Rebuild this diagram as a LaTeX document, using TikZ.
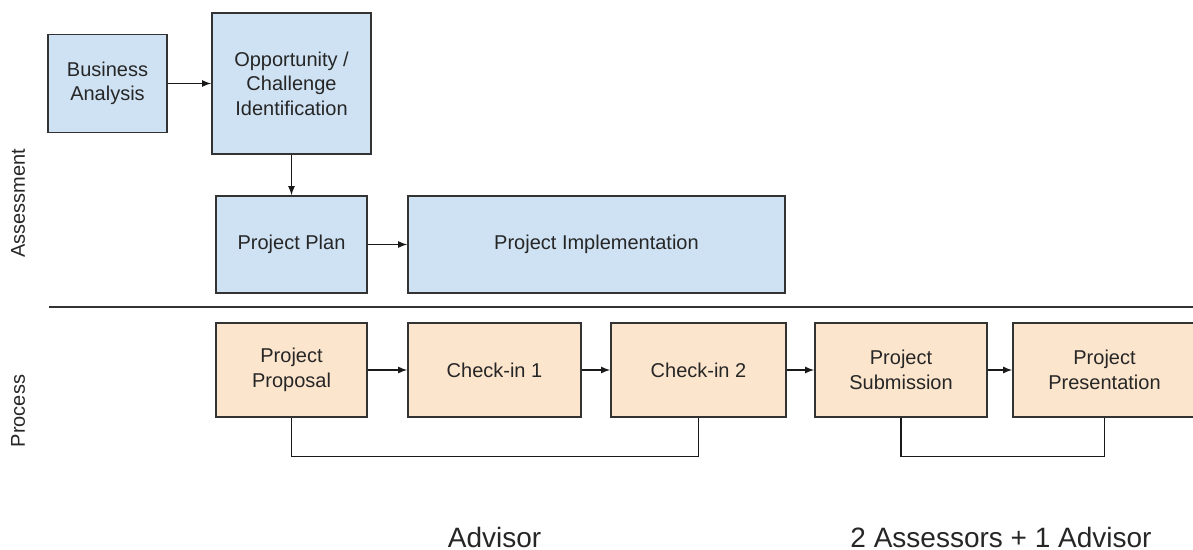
\documentclass[tikz,border=0pt]{standalone}
\usepackage{fontspec}
\setmainfont{Liberation Sans}
\usetikzlibrary{positioning}
\definecolor{assessfill}{HTML}{CFE2F3}
\definecolor{processfill}{HTML}{FCE5CD}
\definecolor{edgegray}{HTML}{333333}

\begin{document}
\begin{tikzpicture}[x=0.5pt, y=-0.5pt,
    box/.style={draw=edgegray, line width=0.9pt, inner sep=0pt, align=center,
        font=\fontsize{10}{12.3}\selectfont, text=black!85},
    blue/.style={box, fill=assessfill},
    orange/.style={box, fill=processfill, minimum height=47pt},
    link/.style={draw=black!90, line width=0.55pt},
    tagtext/.style={text=black!85}]
    \useasboundingbox (0,0) rectangle (1193,550);

    % assessment row
    \node (PP) at (291.5,244.5) [blue, minimum width=75.5pt, minimum height=48.5pt] {Project Plan};
    \node (PI) [right=19.6pt of PP, blue, minimum width=188.5pt, minimum height=48.5pt] {Project Implementation};
    \node (OC) [above=20.1pt of PP, blue, minimum width=79.5pt, minimum height=70.5pt] {Opportunity /\\Challenge\\Identification};
    \node (BA) [left=21.6pt of OC, blue, minimum width=59.5pt, minimum height=49pt] {Business\\Analysis};

    \draw[link, -latex] (BA.east) -- (OC.west);
    \draw[link, -latex] (OC.south) -- (PP.north);
    \draw[link, -latex] (PP.east) -- (PI.west);

    % divider
    \coordinate (divL) at (49,307);
    \coordinate (divR) at (1193,307);
    \draw[draw=edgegray, line width=0.8pt] (divL) -- (divR);

    % process row
    \node (Prop) [below=14.1pt of PP, orange, minimum width=75.5pt] {Project\\Proposal};
    \node (Chk1) [right=19.6pt of Prop, orange, minimum width=86.5pt] {Check-in 1};
    \node (Chk2) [right=14.1pt of Chk1, orange, minimum width=87.5pt] {Check-in 2};
    \node (Sub) [right=13.6pt of Chk2, orange, minimum width=86pt] {Project\\Submission};
    \node (Pres) [right=12.1pt of Sub, orange, minimum width=91.5pt] {Project\\Presentation};

    \draw[link, -latex] (Prop.east) -- (Chk1.west);
    \draw[link, -latex] (Chk1.east) -- (Chk2.west);
    \draw[link, -latex] (Chk2.east) -- (Sub.west);
    \draw[link, -latex] (Sub.east) -- (Pres.west);

    % reviewers
    \draw[link] (Prop.south) -- ++(0,39) -| (Chk2.south);
    \draw[link] (Sub.south) -- ++(0,39) -| (Pres.south);

    \node (adv) at (494.5,537) [tagtext, font=\fontsize{14}{16}\selectfont] {Advisor};
    \node (ass) at (1001,537) [tagtext, font=\fontsize{14}{16}\selectfont] {2 Assessors + 1 Advisor};

    % lanes
    \node (laneA) at (18,203) [tagtext, rotate=90, font=\fontsize{10}{12}\selectfont] {Assessment};
    \node (laneP) at (18,411) [tagtext, rotate=90, font=\fontsize{10}{12}\selectfont] {Process};
\end{tikzpicture}
\end{document}
